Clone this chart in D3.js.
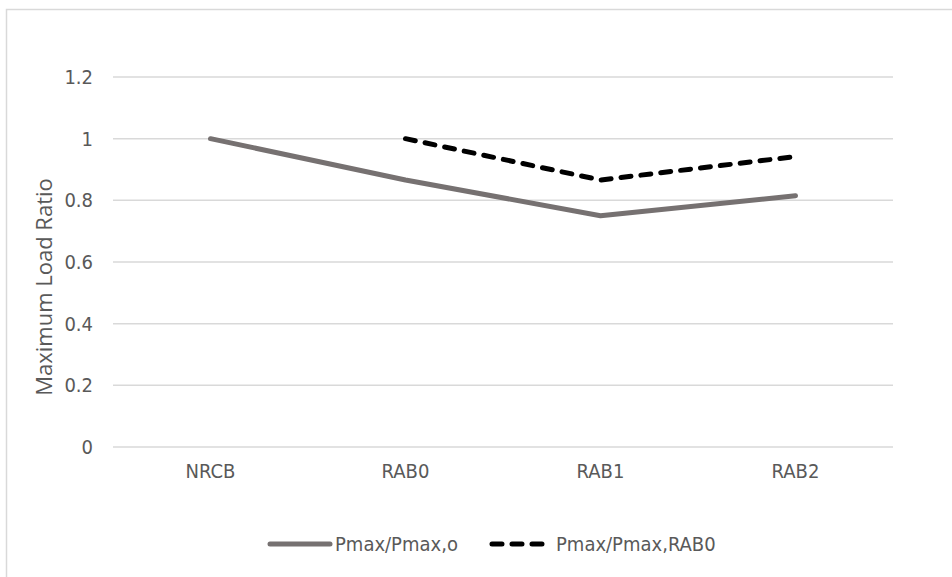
<!DOCTYPE html>
<html>
<head>
<meta charset="utf-8">
<script src="https://cdn.jsdelivr.net/npm/d3@7"></script>
<style>
  html, body { margin: 0; padding: 0; background: #fff; }
  svg { display: block; }
</style>
</head>
<body>
<svg id="chart" width="952" height="577"></svg>
<script>
const categories = ["NRCB", "RAB0", "RAB1", "RAB2"];
const seriesNames = ["Pmax/Pmax,o", "Pmax/Pmax,RAB0"];
const seriesSolid = [1.0, 0.866, 0.75, 0.815];
const seriesDashed = [null, 1.0, 0.866, 0.942];
const yTicks = [0, 0.2, 0.4, 0.6, 0.8, 1, 1.2];
const yTitle = "Maximum Load Ratio";

const condensed = "'Liberation Sans Narrow', 'Arial Narrow', 'DejaVu Sans Condensed', sans-serif";
const svg = d3.select("#chart");

// outer chart border (only top and left visible)
svg.append("rect").attr("x", 6.5).attr("y", 9.5).attr("width", 960).attr("height", 600)
  .attr("fill", "none").attr("stroke", "#d9d9d9").attr("stroke-width", 1.5);

const plot = { left: 113, right: 893, top: 77, bottom: 447 };
const x = d3.scaleBand().domain(categories).range([plot.left, plot.right]);
const y = d3.scaleLinear().domain([0, 1.2]).range([plot.bottom, plot.top]);

// gridlines
svg.append("g").selectAll("line").data(yTicks).join("line")
  .attr("x1", plot.left).attr("x2", plot.right)
  .attr("y1", d => y(d)).attr("y2", d => y(d))
  .attr("stroke", "#d9d9d9").attr("stroke-width", 1.5);

// y axis labels
const yAxis = d3.axisLeft(y).tickValues(yTicks).tickSize(0).tickPadding(0)
  .tickFormat(d => d3.format("")(+d.toFixed(1)));
const gy = svg.append("g").attr("transform", `translate(${plot.left - 20},0)`).call(yAxis);
gy.select(".domain").remove();
gy.selectAll("text").attr("fill", "#595959").style("font-family", condensed).style("font-size", "20px");

// x axis labels
const xAxis = d3.axisBottom(x).tickSize(0).tickPadding(0);
const gx = svg.append("g").attr("transform", `translate(0,${plot.bottom + 17})`).call(xAxis);
gx.select(".domain").remove();
gx.selectAll("text").attr("fill", "#595959").style("font-family", condensed).style("font-size", "20px");

// y title
svg.append("text")
  .attr("transform", `translate(52,${(plot.top + plot.bottom) / 2 + 25}) rotate(-90)`)
  .attr("text-anchor", "middle")
  .attr("fill", "#595959")
  .style("font-family", "'Open Sans', 'Noto Sans', sans-serif")
  .style("font-size", "22px")
  .text(yTitle);

const cx = c => x(c) + x.bandwidth() / 2;
const line = d3.line().defined(d => d.v != null).x(d => cx(d.c)).y(d => y(d.v));

svg.append("path")
  .datum(categories.map((c, i) => ({ c, v: seriesSolid[i] })))
  .attr("d", line).attr("fill", "none")
  .attr("stroke", "#767171").attr("stroke-width", 5)
  .attr("stroke-linecap", "round").attr("stroke-linejoin", "round");

svg.append("path")
  .datum(categories.map((c, i) => ({ c, v: seriesDashed[i] })))
  .attr("d", line).attr("fill", "none")
  .attr("stroke", "#000").attr("stroke-width", 5)
  .attr("stroke-dasharray", "10,10")
  .attr("stroke-linecap", "round").attr("stroke-linejoin", "round");

// legend
const legendY = 544;
const leg = [
  { name: seriesNames[0], x1: 270, x2: 330, tx: 335, color: "#767171", dash: null },
  { name: seriesNames[1], x1: 492, x2: 550, tx: 556, color: "#000", dash: "10,10" }
];
const lg = svg.append("g").selectAll("g").data(leg).join("g");
lg.append("line")
  .attr("x1", d => d.x1).attr("x2", d => d.x2)
  .attr("y1", legendY).attr("y2", legendY)
  .attr("stroke", d => d.color).attr("stroke-width", 5)
  .attr("stroke-linecap", "round")
  .attr("stroke-dasharray", d => d.dash);
lg.append("text")
  .attr("x", d => d.tx).attr("y", legendY).attr("dy", "0.35em")
  .attr("fill", "#595959").style("font-family", condensed).style("font-size", "20px")
  .text(d => d.name);
</script>
</body>
</html>
